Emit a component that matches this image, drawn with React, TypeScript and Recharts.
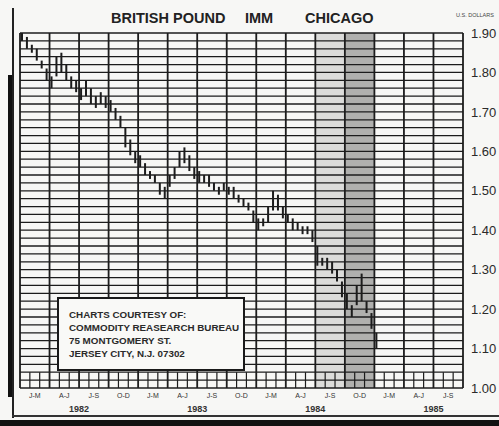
import React from 'react';
import { ComposedChart, Bar, XAxis, YAxis, ReferenceLine, ReferenceArea } from 'recharts';

// half-monthly high/low ranges, Jan 1982 .. early Jan 1985 (US$ per pound)
const barLow = [
  1.88, 1.86, 1.85, 1.83, 1.81, 1.78, 1.76, 1.79, 1.80, 1.78, 1.76, 1.75,
  1.73, 1.74, 1.72, 1.71, 1.72, 1.71, 1.70, 1.68, 1.66, 1.61, 1.59, 1.57,
  1.56, 1.54, 1.53, 1.52, 1.49, 1.48, 1.51, 1.53, 1.56, 1.57, 1.55, 1.53,
  1.52, 1.52, 1.51, 1.50, 1.49, 1.50, 1.49, 1.48, 1.47, 1.46, 1.45, 1.42,
  1.40, 1.41, 1.42, 1.45, 1.45, 1.43, 1.42, 1.40, 1.40, 1.39, 1.39, 1.37,
  1.31, 1.31, 1.30, 1.29, 1.27, 1.23, 1.20, 1.18, 1.21, 1.22, 1.19, 1.15,
  1.10,
];
const barHigh = [
  1.90, 1.89, 1.87, 1.86, 1.83, 1.81, 1.79, 1.84, 1.85, 1.82, 1.79, 1.78,
  1.76, 1.78, 1.76, 1.74, 1.75, 1.74, 1.73, 1.71, 1.69, 1.66, 1.63, 1.60,
  1.59, 1.57, 1.55, 1.54, 1.52, 1.51, 1.54, 1.56, 1.60, 1.61, 1.59, 1.56,
  1.55, 1.54, 1.54, 1.52, 1.51, 1.52, 1.51, 1.51, 1.49, 1.48, 1.47, 1.45,
  1.43, 1.43, 1.46, 1.50, 1.49, 1.46, 1.44, 1.43, 1.42, 1.41, 1.41, 1.40,
  1.36, 1.33, 1.33, 1.32, 1.30, 1.27, 1.24, 1.21, 1.26, 1.29, 1.22, 1.19,
  1.14,
];

const quarterLabels = [
  'J-M', 'A-J', 'J-S', 'O-D',
  'J-M', 'A-J', 'J-S', 'O-D',
  'J-M', 'A-J', 'J-S', 'O-D',
  'J-M', 'A-J', 'J-S',
];
const yearLabels = ['1982', '1983', '1984', '1985'];
const priceTicks = [1.0, 1.1, 1.2, 1.3, 1.4, 1.5, 1.6, 1.7, 1.8, 1.9];

const data = barLow.map((lo, i) => ({ t: i * 0.5 + 0.25, range: [lo, barHigh[i]] }));

const MONTHS = quarterLabels.length * 3;
const quarterLines = Array.from({ length: quarterLabels.length + 1 }, (_, i) => i * 3);
const quarterTicks = quarterLabels.map((_, i) => i * 3 + 1.5);
const yearTicks = yearLabels.map((_, i) => i * 12 + 6);
const gridLevels = Array.from({ length: 46 }, (_, i) => +(1 + i * 0.02).toFixed(2));
const monthTicks = Array.from({ length: MONTHS - 1 }, (_, i) => i + 1).filter((m) => m % 3 !== 0);

const ink = '#1c1c1c';
const font = '"Liberation Sans", Arial, sans-serif';
const titleStyle: React.CSSProperties = { position: 'absolute', top: 10, fontSize: 14.5, fontWeight: 700, color: '#222', whiteSpace: 'nowrap' };

export default function App() {
  return (
    <div style={{ position: 'absolute', left: 0, top: 0, width: 499, height: 426, background: '#f7f7f5', overflow: 'hidden', fontFamily: font }}>
      <ComposedChart width={499} height={426} data={data} margin={{ top: 33, right: 0, bottom: 0, left: 20 }}>
        <XAxis
          xAxisId="q"
          dataKey="t"
          type="number"
          domain={[0, MONTHS]}
          ticks={quarterTicks}
          tickFormatter={(v) => quarterLabels[Math.round((v - 1.5) / 3)]}
          tick={{ fontSize: 7, fill: '#333', fontFamily: font }}
          tickLine={false}
          axisLine={false}
          tickSize={0}
          tickMargin={5}
          height={14}
          interval={0}
          allowDataOverflow
        />
        <XAxis
          xAxisId="yr"
          dataKey="t"
          type="number"
          domain={[0, MONTHS]}
          ticks={yearTicks}
          tickFormatter={(v) => yearLabels[Math.round((v - 6) / 12)]}
          tick={{ fontSize: 9, fill: '#333', fontWeight: 700, fontFamily: font }}
          tickLine={false}
          axisLine={false}
          tickSize={0}
          tickMargin={4}
          height={24}
          interval={0}
          allowDataOverflow
        />
        <YAxis
          orientation="right"
          domain={[1.0, 1.9]}
          ticks={priceTicks}
          tickFormatter={(v) => v.toFixed(2)}
          tick={{ fontSize: 13, fill: '#2a2a2a', fontFamily: font }}
          tickLine={false}
          axisLine={false}
          width={36}
          interval={0}
          allowDataOverflow
        />

        <ReferenceArea xAxisId="q" x1={30} x2={33} y1={1.0} y2={1.9} fill="#dcdcda" fillOpacity={1} stroke="none" />
        <ReferenceArea xAxisId="q" x1={33} x2={36} y1={1.0} y2={1.9} fill="#b0b0ae" fillOpacity={1} stroke="none" />

        {gridLevels.map((lv) => (
          <ReferenceLine key={'h' + lv} xAxisId="q" y={lv} stroke={ink} strokeWidth={1.3} />
        ))}
        {quarterLines.map((m) => (
          <ReferenceLine key={'v' + m} xAxisId="q" x={m} stroke={ink} strokeWidth={1.8} />
        ))}
        {monthTicks.map((m) => (
          <ReferenceLine
            key={'m' + m}
            xAxisId="q"
            segment={[{ x: m, y: 1.0 }, { x: m, y: 1.04 }]}
            stroke={ink}
            strokeWidth={1.2}
          />
        ))}

        <Bar xAxisId="q" dataKey="range" fill={ink} barSize={2} isAnimationActive={false} />
      </ComposedChart>

      <div style={{ ...titleStyle, left: 111 }}>BRITISH POUND</div>
      <div style={{ ...titleStyle, left: 245 }}>IMM</div>
      <div style={{ ...titleStyle, left: 305 }}>CHICAGO</div>
      <div style={{ position: 'absolute', left: 456, top: 12, fontSize: 5.5, color: '#444', whiteSpace: 'nowrap' }}>U.S. DOLLARS</div>

      <div
        style={{
          position: 'absolute',
          left: 57,
          top: 297,
          width: 184,
          height: 70,
          background: '#f9f9f7',
          border: '2px solid #1a1a1a',
          boxSizing: 'content-box',
          fontSize: 9.8,
          fontWeight: 700,
          lineHeight: '13px',
          color: '#2a2a2a',
        }}
      >
        <div style={{ position: 'absolute', left: 10, top: 9, whiteSpace: 'nowrap' }}>
          CHARTS COURTESY OF:
          <br />
          COMMODITY REASEARCH BUREAU
          <br />
          75 MONTGOMERY ST.
          <br />
          JERSEY CITY, N.J. 07302
        </div>
      </div>

      <div style={{ position: 'absolute', left: 12, top: 8, width: 1.5, height: 410, background: '#222' }} />
      <div style={{ position: 'absolute', left: 8, top: 75, width: 4, height: 322, background: '#111' }} />
      <div style={{ position: 'absolute', left: 12, top: 415, width: 487, height: 1.5, background: '#333' }} />
      <div style={{ position: 'absolute', left: 0, top: 420, width: 499, height: 6, background: '#111' }} />
    </div>
  );
}
